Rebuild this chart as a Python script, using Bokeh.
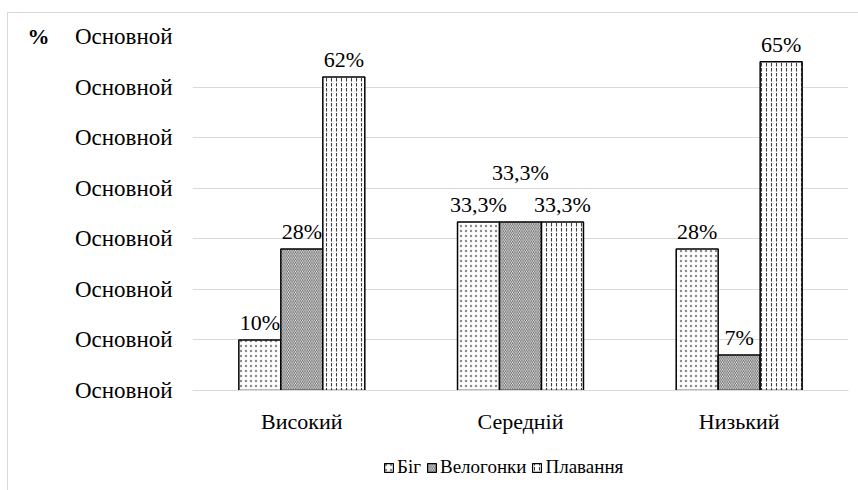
from bokeh.plotting import figure
from bokeh.layouts import column
from bokeh.models import (ColumnDataSource, FactorRange, Legend, LegendItem, FixedTicker,
                          LinearAxis, Range1d)
from bokeh.core.properties import value
from bokeh.transform import dodge
from bokeh.embed import file_html
from bokeh.resources import INLINE

levels = ["Високий", "Середній", "Низький"]
series = ["Біг", "Велогонки", "Плавання"]
run = [10, 33.3, 28]
cycling = [28, 33.3, 7]
swimming = [62, 33.3, 65]
run_labels = ["10%", "33,3%", "28%"]
cycling_labels = ["28%", "33,3%", "7%"]
swimming_labels = ["62%", "33,3%", "65%"]
y_ticks = [0, 10, 20, 30, 40, 50, 60, 70]
y_tick_text = "Основной"
unit_text = "%"

FONT = "Liberation Serif"
GRID = "#d9d9d9"

src = ColumnDataSource(dict(
    level=levels,
    run=run, cycling=cycling, swimming=swimming,
    run_lbl=run_labels, cycling_lbl=cycling_labels, swimming_lbl=swimming_labels,
))
# the middle label is lifted where all three bars are equal, so labels do not collide
lift = [32 if a == b == c else 0 for a, b, c in zip(run, cycling, swimming)]

p = figure(x_range=FactorRange(*levels), y_range=(0, 70),
           width=850, height=427, output_backend="svg", toolbar_location=None,
           min_border_left=184, min_border_right=10, min_border_top=23, min_border_bottom=50)
p.outline_line_color = None
p.background_fill_color = "white"
p.border_fill_color = "white"

bw = 0.192
styles = [
    ("run", -bw, ".", 5, "#8c8c8c", 1.0),
    ("cycling", 0.0, "\\", 3.5, "#595959", 0.9),
    ("swimming", bw, ":", 5, "#404040", 1.1),
]
for key, off, hp, hs, hc, hw in styles:
    p.vbar(x=dodge("level", off, range=p.x_range), top=key, width=bw, source=src,
           fill_color="white", line_color="black", line_width=1.5,
           hatch_pattern=hp, hatch_scale=hs, hatch_color=hc, hatch_weight=hw)
    if key == "cycling":
        lsrc = ColumnDataSource(dict(level=levels, v=cycling, lbl=cycling_labels,
                                     off=[-5 - d for d in lift]))
        p.text(x=dodge("level", off, range=p.x_range), y="v", text="lbl", source=lsrc,
               y_offset="off", text_align="center", text_baseline="bottom",
               text_font=value(FONT), text_font_size="22px", text_color="black")
    else:
        p.text(x=dodge("level", off, range=p.x_range), y=key, text=key + "_lbl", source=src,
               y_offset=-5, text_align="center", text_baseline="bottom",
               text_font=value(FONT), text_font_size="22px", text_color="black")

p.yaxis.ticker = FixedTicker(ticks=y_ticks)
p.yaxis.major_label_overrides = {t: y_tick_text for t in y_ticks}
p.yaxis.axis_line_color = None
p.yaxis.major_tick_line_color = None
p.yaxis.minor_tick_line_color = None
p.yaxis.major_label_standoff = 14
p.yaxis.major_label_text_font = FONT
p.yaxis.major_label_text_font_size = "23px"
p.yaxis.major_label_text_color = "black"

# unit sign at the top of the value scale, left of the tick labels
unit_axis = LinearAxis(ticker=FixedTicker(ticks=[y_ticks[-1]]),
                       major_label_overrides={y_ticks[-1]: unit_text},
                       axis_line_color=None, major_tick_line_color=None,
                       minor_tick_line_color=None, major_label_standoff=16,
                       major_label_text_font=FONT, major_label_text_font_style="bold",
                       major_label_text_font_size="22px", major_label_text_color="black")
p.add_layout(unit_axis, "left")

p.xaxis.axis_line_color = GRID
p.xaxis.major_tick_line_color = None
p.xaxis.minor_tick_line_color = None
p.xaxis.major_label_standoff = 12
p.xaxis.major_label_text_font = FONT
p.xaxis.major_label_text_font_size = "22px"
p.xaxis.major_label_text_color = "black"

p.xgrid.grid_line_color = None
p.ygrid.grid_line_color = GRID
p.ygrid.ticker = FixedTicker(ticks=y_ticks)

# legend strip under the chart; its thin bar renderers share the data but lie
# below the strip's visible value range, so only the legend swatches show
q = figure(x_range=p.x_range, y_range=Range1d(1000, 1001),
           width=850, height=50, output_backend="svg", toolbar_location=None,
           x_axis_location=None, y_axis_location=None, min_border=0)
q.outline_line_color = None
q.background_fill_color = "white"
q.border_fill_color = "white"
q.xgrid.visible = False
q.ygrid.visible = False
swatches = []
for key, off, hp, hs, hc, hw in styles:
    swatches.append(q.vbar(x=dodge("level", off, range=q.x_range), top=key, width=0.001,
                           source=src, fill_color="white", line_color="black",
                           line_width=1.2, hatch_pattern=hp, hatch_scale=hs,
                           hatch_color=hc, hatch_weight=hw))
legend = Legend(items=[LegendItem(label=s, renderers=[r]) for s, r in zip(series, swatches)],
                orientation="horizontal", location=(191, 12),
                border_line_color=None, background_fill_alpha=0,
                label_text_font=FONT, label_text_font_size="19px", label_text_color="black",
                glyph_width=11, glyph_height=11, label_standoff=3, spacing=5, padding=2)
q.add_layout(legend, "center")

page = column(p, q, margin=(12, 0, 0, 7),
              styles={"border-left": f"1px solid {GRID}", "border-top": f"1px solid {GRID}"})

open("out.html", "w").write(file_html(page, INLINE))
